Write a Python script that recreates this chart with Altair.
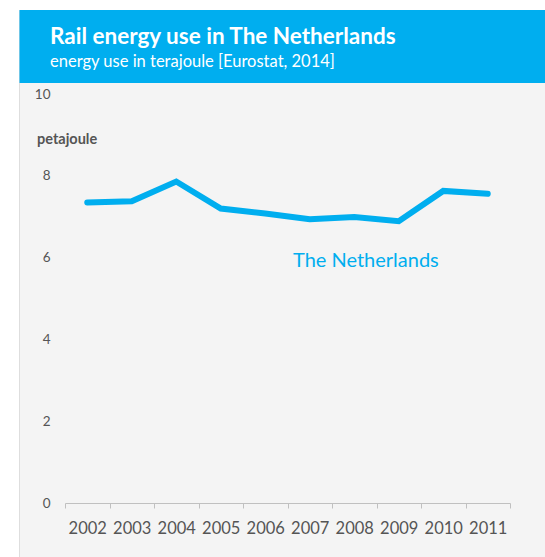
import altair as alt
import pandas as pd

# ---- data ----
years = ["2002", "2003", "2004", "2005", "2006", "2007", "2008", "2009", "2010", "2011"]
energy_pj = [7.35, 7.38, 7.86, 7.20, 7.08, 6.94, 6.99, 6.89, 7.63, 7.56]
series_name = "The Netherlands"
y_ticks = [0, 2, 4, 6, 8, 10]
title_text = "Rail energy use in The Netherlands"
subtitle_text = "energy use in terajoule [Eurostat, 2014]"
unit_text = "petajoule"

BLUE = "#00AEEF"
GREY_TXT = "#555555"
FONT = "Lato"

df = pd.DataFrame({"year": years, "value": energy_pj})
one = pd.DataFrame({"k": [0]})

xscale = alt.Scale(domain=years, range=[65, 510], paddingInner=0, paddingOuter=0)
yscale = alt.Scale(domain=[0, 10], range=[503, 94])

panel = alt.Chart(one).mark_rect(color="#f4f4f4", stroke="#dedede", strokeWidth=1).encode(
    x=alt.value(19.5), x2=alt.value(560), y=alt.value(10.5), y2=alt.value(570)
)
header = alt.Chart(one).mark_rect(color=BLUE).encode(
    x=alt.value(19.5), x2=alt.value(560), y=alt.value(10), y2=alt.value(83)
)
title = alt.Chart(one).mark_text(
    text=title_text, font=FONT, fontSize=22.5, fontWeight="bold", color="white",
    align="left", baseline="alphabetic"
).encode(x=alt.value(50), y=alt.value(44))
subtitle = alt.Chart(one).mark_text(
    text=subtitle_text, font=FONT, fontSize=16.5, color="white",
    align="left", baseline="alphabetic"
).encode(x=alt.value(50), y=alt.value(67))
unit = alt.Chart(one).mark_text(
    text=unit_text, font=FONT, fontSize=14.5, fontWeight="bold", color=GREY_TXT,
    align="left", baseline="middle"
).encode(x=alt.value(37), y=alt.value(140))
series_label = alt.Chart(one).mark_text(
    text=series_name, font=FONT, fontSize=20, color=BLUE,
    align="left", baseline="middle"
).encode(x=alt.value(293), y=alt.value(261))

line = alt.Chart(df).mark_line(color=BLUE, strokeWidth=6, strokeCap="round").encode(
    x=alt.X("year:O", scale=xscale, sort=years,
            axis=alt.Axis(title=None, offset=-54, tickBand="extent", labelAngle=0,
                          domainColor="#c0c0c0", tickColor="#c0c0c0", tickSize=5,
                          labelFont=FONT, labelFontSize=16.5, labelColor=GREY_TXT,
                          labelPadding=12, grid=False, zindex=1)),
    y=alt.Y("value:Q", scale=yscale,
            axis=alt.Axis(title=None, values=y_ticks, offset=-50, domain=False,
                          ticks=False, tickSize=0, grid=False, labelPadding=0,
                          labelFont=FONT, labelFontSize=13.5, labelColor=GREY_TXT,
                          zindex=1)),
)

chart = alt.layer(panel, header, title, subtitle, unit, line, series_label).properties(
    width=545, height=557, autosize=alt.AutoSizeParams(type="none"), padding=0,
    background="white"
).configure_view(strokeWidth=0)

chart.save("out.html", embed_options={"renderer": "svg", "actions": False})
